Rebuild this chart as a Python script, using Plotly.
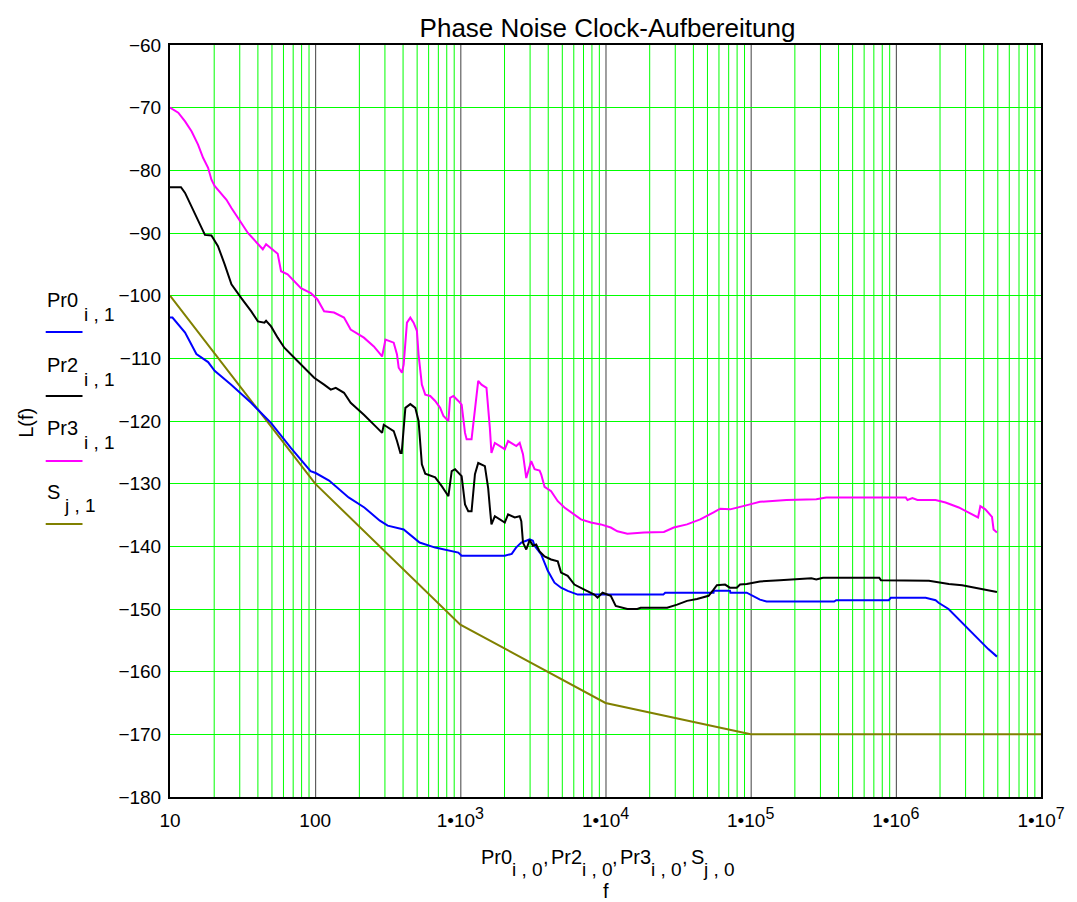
import math
import plotly.graph_objects as go

# ---------------- data ----------------
pr0_f = [10, 10.4, 12.7, 15.2, 18.3, 20.3, 26.4, 36.2, 49.6, 68, 93, 100.8, 124.7, 170, 218, 279, 316,
         407, 524, 671, 969, 1020, 2020, 2260, 2420, 2630, 2846, 3002, 3162, 3248, 3605, 3803, 4005,
         4452, 4941, 5492, 6431, 25000, 25760, 55500, 55800, 72000, 72500, 93900, 105000, 115800,
         128700, 376000, 388000, 895000, 924000, 1605000, 1879000, 1970000, 2307000, 2863000,
         3702000, 4335000, 4974000]
pr0_v = [-103.5, -103.5, -105.9, -109.3, -110.6, -112.0, -114.2, -117.1, -120.3, -124.3, -128.0, -128.3,
         -129.5, -132.2, -133.8, -135.9, -136.7,
         -137.3, -139.4, -140.2, -141.0, -141.5, -141.5, -141.2, -140.2, -139.4, -139.1, -138.9, -139.1,
         -139.9, -141.3, -142.8, -143.9,
         -145.8, -146.6, -147.1, -147.7, -147.7, -147.4, -147.4, -147.1, -147.1, -147.4, -147.4, -148.0,
         -148.5, -148.8, -148.8, -148.6, -148.6, -148.2, -148.2, -148.6, -149.0, -150.0, -152.2,
         -154.8, -156.4, -157.6]

pr2_f = [10, 11.9, 12.7, 13.7, 14.8, 16.1, 17.4, 19.3, 21.4, 23.8, 26.5, 31.0, 36.3, 40.3, 44.7, 45.9,
         49.7, 55.2, 61.3, 71.8, 84.1, 98.4, 115.2, 128.1, 138.7, 158, 175.6, 216.6, 267.2, 289.1,
         296.9, 347.6, 366.2, 386.4, 394.4, 418.1, 452.3, 489.4, 515.6, 543.2, 573.1, 671, 744.6,
         827.8, 871.9, 919.9, 1021, 1077, 1134, 1195, 1261, 1328, 1476, 1555, 1597, 1638, 1729, 2024,
         2133, 2370, 2564, 2630, 2701, 2846, 3002, 3162, 3332, 3515, 3803, 4220, 4691, 4941, 5492,
         6103, 7147, 8368, 8814, 9539, 10870, 11760, 14150, 16570, 17450, 26590, 31140, 36440, 42670,
         51320, 55530, 58500, 66680, 71800, 80200, 84480, 93890, 115800, 158800, 254800, 261700,
         283200, 314800, 768500, 789400, 1691000, 2318000, 2863000, 3924000, 4974000]
pr2_v = [-82.7, -82.7, -83.6, -85.2, -86.8, -88.7, -90.3, -90.4, -92.1, -95.0, -98.2, -100.4, -102.5,
         -104.1, -104.3, -104.0,
         -104.9, -106.7, -108.3, -109.9, -111.5, -113.1, -114.2, -115.0, -114.7, -115.5, -117.1, -119.0,
         -121.1, -121.9,
         -120.6, -121.6, -123.2, -125.1, -125.1, -117.9, -117.3, -117.9, -120.0, -126.9, -128.4, -129.0,
         -130.4,
         -132.0, -128.0, -127.7, -128.8, -133.3, -134.4, -134.4, -128.5, -126.7, -127.2, -130.7, -133.8,
         -136.5, -135.2, -136.2,
         -134.9, -135.4, -135.2, -136.0, -139.4, -140.5, -139.0, -139.9, -139.7, -140.8, -141.6, -142.1,
         -142.4, -144.2, -144.7,
         -146.1, -146.9, -147.7, -148.2, -147.4, -147.9, -149.5, -150.0, -150.0, -149.8, -149.8, -149.3,
         -148.7, -148.4,
         -147.9, -146.9, -146.2, -146.1, -146.6, -146.6, -146.1, -146.0, -145.6, -145.4, -145.1, -145.1,
         -145.3, -145.0, -145.0, -145.4, -145.5, -146.0, -146.2, -146.8, -147.3]

pr3_f = [10, 11.4, 12.7, 14.1, 15.6, 16.9, 18.3, 19.3, 20.3, 22.6, 24.5, 26.5, 28.6, 31.0, 34.4, 38.2,
         43.6, 45.9, 49.7, 55.2, 58.2, 64.6, 79.8, 93.4, 103.7, 115.2, 134.9, 158, 175.6, 216.6, 253.6,
         289.1, 305, 347.6, 366.2, 376.1, 396.3, 407, 428.8, 452.3, 476.5, 502, 515.6, 543.2, 573.1,
         620.2, 671, 726.1, 764.8, 827.8, 850.3, 895.6, 969, 1021, 1077, 1105, 1195, 1247, 1328, 1399,
         1514, 1597, 1638, 1729, 2024, 2133, 2430, 2564, 2701, 2846, 3078, 3248, 3515, 3605, 3803,
         4220, 4691, 5213, 5786, 6774, 7933, 9286, 10870, 12080, 14150, 18420, 25240, 29540, 36440,
         44950, 55530, 61620, 72140, 80200, 98900, 115800, 176400, 283200, 331600, 1171000, 1203000,
         1301000, 1408000, 1879000, 2200000, 2714000, 3352000, 3684000, 3820000, 4134000, 4596000,
         4713000, 4974000]
pr3_v = [-70.0, -70.8, -72.2, -73.8, -75.9, -78.0, -79.6, -81.5, -82.5, -83.8, -84.7, -86.0, -87.1, -88.4,
         -90.0, -91.1,
         -92.6, -91.8, -92.4, -93.3, -96.1, -96.6, -98.8, -99.6, -100.6, -102.5, -102.7, -103.5, -105.4,
         -106.7, -108.1,
         -109.7, -107.0, -107.5, -109.4, -111.5, -112.3, -111.0, -104.3, -103.5, -104.3, -105.6, -109.4,
         -114.2, -115.8,
         -116.0, -116.8, -117.9, -119.2, -120.0, -116.3, -116.0, -116.8, -117.4, -121.9, -122.9, -122.9,
         -119.0, -113.6, -114.2,
         -114.7, -121.1, -125.1, -123.5, -124.5, -123.2, -124.0, -123.5, -125.3, -129.1, -126.4, -127.7,
         -127.9, -128.5, -130.5,
         -131.2, -132.8, -133.8, -134.6, -135.7, -136.2, -136.5, -137.0, -137.6, -138.0, -137.8, -137.7,
         -137.0, -136.5,
         -135.7, -134.6, -134.0, -134.1, -133.8, -133.3, -132.9, -132.6, -132.5, -132.2, -132.2, -132.6,
         -132.3, -132.6, -132.6, -133.0, -133.8, -135.0, -135.4, -133.6, -134.1, -135.3,
         -137.3, -137.8]

s_f = [10, 100, 1000, 10000, 100000, 10000000]
s_v = [-100, -130, -152.5, -165, -170, -170]

x_decades = [10, 100, 1e3, 1e4, 1e5, 1e6, 1e7]
x_exponents = ["", "", "3", "4", "5", "6", "7"]
x_minor = [m * d for d in [10, 100, 1e3, 1e4, 1e5, 1e6] for m in range(2, 10)]
y_tickvals = list(range(-180, -59, 10))

legend_base = ["Pr0", "Pr2", "Pr3", "S"]
legend_sub = ["i , 1", "i , 1", "i , 1", "j , 1"]
xlabel_sub = ["i , 0", "i , 0", "i , 0", "j , 0"]
colors = ["#0000ff", "#000000", "#ff00ff", "#808000"]

# ---------------- figure ----------------
FONT = "Liberation Sans, Arial, sans-serif"
OFF = 8  # body margin of the html page
W, H = 1077 - OFF, 902 - OFF
L, R, T, B = 170, 1046, 45, 797   # plot box in page pixels
XLOG_RANGE = [1, 7]
HALF_PX = 0.5 / (R - L)           # centre 1px grid lines on a pixel


def px(x):
    return (x - L) / (R - L)


def py(y):
    return (B - y) / (B - T)


def fx_paper(f):
    return (math.log10(f) - XLOG_RANGE[0]) / (XLOG_RANGE[1] - XLOG_RANGE[0]) + HALF_PX


def sup(t, size=16):
    return "<sup><span style='font-size:%dpx'>%s</span></sup>" % (size, t)


x_ticktext = ["1\u202210" + sup(e) if e else str(int(d)) for d, e in zip(x_decades, x_exponents)]
y_ticktext = ["\u2212" + str(abs(v)) for v in y_tickvals]

fig = go.Figure()
order = [3, 0, 1, 2]
series = [(pr0_f, pr0_v), (pr2_f, pr2_v), (pr3_f, pr3_v), (s_f, s_v)]
for i in order:
    fx, fy = series[i]
    fig.add_trace(go.Scatter(x=fx, y=fy, mode="lines", line=dict(color=colors[i], width=2),
                             name=legend_base[i], showlegend=False))

annotations = []
shapes = []

# vertical log grid: green at 2..9, dark grey at decades
for f in x_minor:
    xp = fx_paper(f)
    shapes.append(dict(type="line", xref="paper", yref="paper", x0=xp, x1=xp, y0=0, y1=1,
                       layer="below", line=dict(color="#00ff00", width=1)))
for f in x_decades[1:-1]:
    xp = fx_paper(f)
    shapes.append(dict(type="line", xref="paper", yref="paper", x0=xp, x1=xp, y0=0, y1=1,
                       layer="below", line=dict(color="#404040", width=1)))

TXT = 20


def text_at(x, y, t, size=TXT, anchor="left", **kw):
    annotations.append(dict(x=px(x), y=py(y), xref="paper", yref="paper", text=t, showarrow=False,
                            xanchor=anchor, yanchor="middle",
                            font=dict(size=size, color="black", family=FONT), **kw))


# legend on the left: name, lowered subscript, coloured line below
leg_main_y = [300, 365, 428, 492]
leg_line_y = [332, 396, 461, 524]
leg_sub_x = [81, 81, 81, 61]
for b_, s_, c, my, ly, sx in zip(legend_base, legend_sub, colors, leg_main_y, leg_line_y, leg_sub_x):
    text_at(44, my, b_)
    text_at(sx, my + 14, s_, size=19)
    shapes.append(dict(type="line", xref="paper", yref="paper", x0=px(45), x1=px(82), y0=py(ly), y1=py(ly),
                       line=dict(color=c, width=2)))

text_at(25, 423, "L(f)", anchor="center", textangle=-90)

# x-axis label pieces
xl_main_x = [481, 551, 621, 692]
xl_sub_x = [512, 582, 652, 704]
xl_comma_x = [543, 613, 683]
for i, (b_, s_) in enumerate(zip(legend_base, xlabel_sub)):
    text_at(xl_main_x[i], 857, b_)
    text_at(xl_sub_x[i], 869, s_, size=19)
    if i < 3:
        text_at(xl_comma_x[i], 857, ",")
text_at(608, 891, "f", anchor="center")

axis_common = dict(showline=True, linecolor="black", linewidth=2, mirror=True, ticks="", zeroline=False)
fig.update_layout(
    width=W, height=H,
    margin=dict(l=L - OFF, r=W - (R - OFF), t=T - OFF, b=H - (B - OFF)),
    paper_bgcolor="white", plot_bgcolor="white",
    font=dict(family=FONT, size=19, color="black"),
    title=dict(text="Phase Noise Clock-Aufbereitung", x=px(610), xref="paper", y=1 - (28 - OFF) / H,
               yanchor="middle", xanchor="center", font=dict(size=26, color="black", family=FONT)),
    annotations=annotations, shapes=shapes,
    showlegend=False,
    xaxis=dict(type="log", range=XLOG_RANGE, tickmode="array", tickvals=x_decades, ticktext=x_ticktext,
               showgrid=False, ticklabelstandoff=5,
               tickfont=dict(size=19, family=FONT), **axis_common),
    yaxis=dict(range=[-180, -60], tickmode="array", tickvals=y_tickvals, ticktext=y_ticktext,
               showgrid=True, gridcolor="#00ff00", gridwidth=1, ticklabelstandoff=3,
               tickfont=dict(size=19, family=FONT), **axis_common),
)

fig.write_html("out.html")
